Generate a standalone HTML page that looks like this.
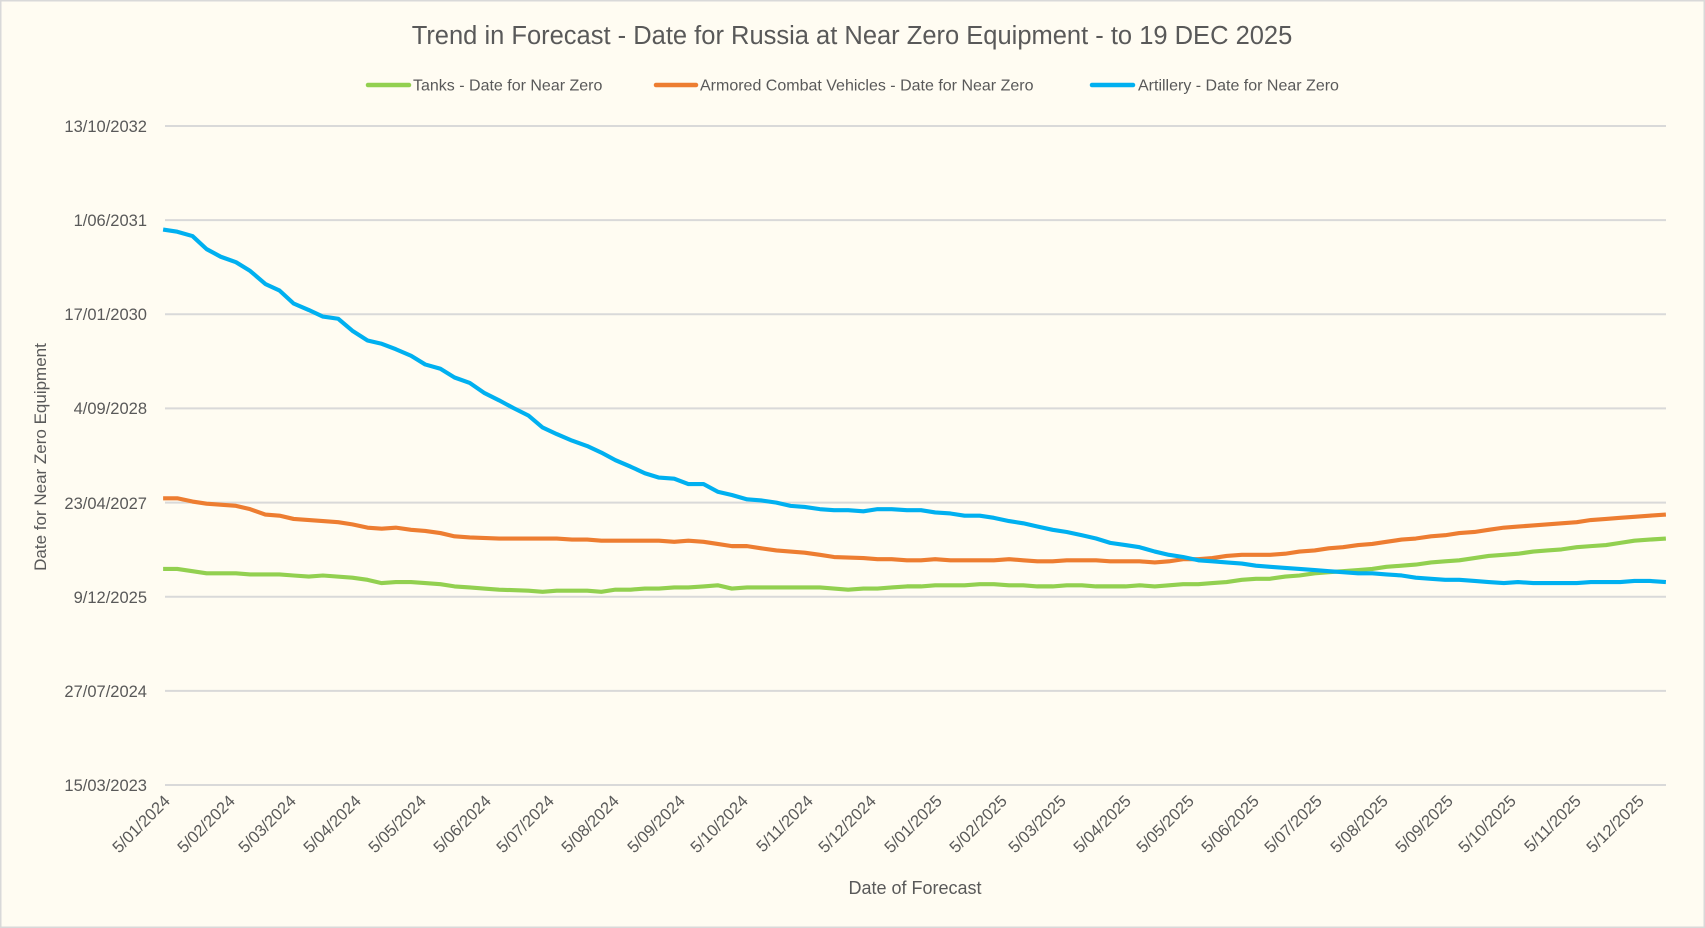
<!DOCTYPE html>
<html><head><meta charset="utf-8"><style>
html,body{margin:0;padding:0;background:#fffcf2;}
svg{display:block;font-family:"Liberation Sans",sans-serif;}
</style></head><body>
<svg width="1705" height="928" viewBox="0 0 1705 928">
<rect x="0.5" y="0.5" width="1704" height="927" fill="#fffcf2" stroke="#d9d9d9" stroke-width="2"/>
<text x="852" y="44" text-anchor="middle" font-size="25.5" fill="#595959">Trend in Forecast - Date for Russia at Near Zero Equipment - to 19 DEC 2025</text>
<g font-size="16" fill="#595959">
<line x1="368" y1="85" x2="409" y2="85" stroke="#92d050" stroke-width="4.5" stroke-linecap="round"/>
<text x="413" y="90.5">Tanks - Date for Near Zero</text>
<line x1="656" y1="85" x2="696" y2="85" stroke="#ed7d31" stroke-width="4.5" stroke-linecap="round"/>
<text x="700" y="90.5">Armored Combat Vehicles - Date for Near Zero</text>
<line x1="1092" y1="85" x2="1133" y2="85" stroke="#00b0f0" stroke-width="4.5" stroke-linecap="round"/>
<text x="1138" y="90.5">Artillery - Date for Near Zero</text>
</g>
<g stroke="#d9d9d9" stroke-width="2">
<line x1="165" x2="1666" y1="126" y2="126"/>
<line x1="165" x2="1666" y1="220.1" y2="220.1"/>
<line x1="165" x2="1666" y1="314.3" y2="314.3"/>
<line x1="165" x2="1666" y1="408.4" y2="408.4"/>
<line x1="165" x2="1666" y1="502.6" y2="502.6"/>
<line x1="165" x2="1666" y1="596.7" y2="596.7"/>
<line x1="165" x2="1666" y1="690.9" y2="690.9"/>
<line x1="165" x2="1666" y1="785" y2="785"/>
</g>
<g font-size="16.5" fill="#595959" text-anchor="end">
<text x="147" y="132">13/10/2032</text>
<text x="147" y="226">1/06/2031</text>
<text x="147" y="320">17/01/2030</text>
<text x="147" y="414">4/09/2028</text>
<text x="147" y="509">23/04/2027</text>
<text x="147" y="603">9/12/2025</text>
<text x="147" y="697">27/07/2024</text>
<text x="147" y="791">15/03/2023</text>
</g>
<text transform="translate(46,457) rotate(-90)" text-anchor="middle" font-size="17" fill="#595959">Date for Near Zero Equipment</text>
<text x="915" y="894" text-anchor="middle" font-size="18" fill="#595959">Date of Forecast</text>
<g font-size="16.5" fill="#595959" text-anchor="end">
<text transform="translate(171,802) rotate(-45)">5/01/2024</text>
<text transform="translate(236,802) rotate(-45)">5/02/2024</text>
<text transform="translate(297,802) rotate(-45)">5/03/2024</text>
<text transform="translate(362,802) rotate(-45)">5/04/2024</text>
<text transform="translate(427,802) rotate(-45)">5/05/2024</text>
<text transform="translate(492,802) rotate(-45)">5/06/2024</text>
<text transform="translate(555,802) rotate(-45)">5/07/2024</text>
<text transform="translate(620,802) rotate(-45)">5/08/2024</text>
<text transform="translate(686,802) rotate(-45)">5/09/2024</text>
<text transform="translate(749,802) rotate(-45)">5/10/2024</text>
<text transform="translate(814,802) rotate(-45)">5/11/2024</text>
<text transform="translate(877,802) rotate(-45)">5/12/2024</text>
<text transform="translate(943,802) rotate(-45)">5/01/2025</text>
<text transform="translate(1008,802) rotate(-45)">5/02/2025</text>
<text transform="translate(1067,802) rotate(-45)">5/03/2025</text>
<text transform="translate(1132,802) rotate(-45)">5/04/2025</text>
<text transform="translate(1195,802) rotate(-45)">5/05/2025</text>
<text transform="translate(1260,802) rotate(-45)">5/06/2025</text>
<text transform="translate(1323,802) rotate(-45)">5/07/2025</text>
<text transform="translate(1389,802) rotate(-45)">5/08/2025</text>
<text transform="translate(1454,802) rotate(-45)">5/09/2025</text>
<text transform="translate(1517,802) rotate(-45)">5/10/2025</text>
<text transform="translate(1582,802) rotate(-45)">5/11/2025</text>
<text transform="translate(1645,802) rotate(-45)">5/12/2025</text>
</g>
<g transform="scale(1.0874,1.0879)" fill="none" stroke-width="3.8" stroke-linejoin="round">
<polyline stroke="#92d050" points="150,523 163,523 177,525 190,527 217,527 230,528 257,528 270,529 284,530 297,529 324,531 338,533 351,536 364,535 378,535 391,536 405,537 418,539 432,540 445,541 459,542 486,543 499,544 512,543 540,543 553,544 566,542 580,542 593,541 606,541 620,540 633,540 647,539 660,538 673,541 687,540 700,540 754,540 767,541 780,542 794,541 807,541 820,540 834,539 847,539 860,538 887,538 901,537 914,537 928,538 941,538 954,539 968,539 981,538 995,538 1008,539 1035,539 1048,538 1062,539 1075,538 1088,537 1102,537 1115,536 1128,535 1142,533 1155,532 1168,532 1182,530 1195,529 1209,527 1222,526 1235,525 1249,524 1262,523 1275,521 1289,520 1302,519 1316,517 1329,516 1342,515 1356,513 1369,511 1383,510 1396,509 1410,507 1423,506 1436,505 1450,503 1463,502 1477,501 1490,499 1503,497 1517,496 1532,495"/>
<polyline stroke="#ed7d31" points="150,458 163,458 177,461 190,463 217,465 230,468 244,473 257,474 270,477 297,479 311,480 324,482 338,485 351,486 364,485 378,487 391,488 405,490 418,493 432,494 459,495 486,495 512,495 526,496 540,496 553,497 606,497 620,498 633,497 647,498 660,500 673,502 687,502 700,504 714,506 740,508 754,510 767,512 794,513 807,514 820,514 834,515 847,515 860,514 874,515 914,515 928,514 941,515 954,516 968,516 981,515 1008,515 1021,516 1048,516 1062,517 1075,516 1088,514 1102,514 1115,513 1128,511 1142,510 1168,510 1182,509 1195,507 1209,506 1222,504 1235,503 1249,501 1262,500 1275,498 1289,496 1302,495 1316,493 1329,492 1342,490 1356,489 1369,487 1383,485 1396,484 1410,483 1436,481 1450,480 1463,478 1477,477 1490,476 1503,475 1517,474 1532,473"/>
<polyline stroke="#00b0f0" points="150,211 163,213 177,217 190,229 203,236 217,241 230,249 244,261 257,267 270,279 284,285 297,291 311,293 324,304 338,313 351,316 364,321 378,327 391,335 405,339 418,347 432,352 445,361 459,368 472,375 486,382 499,393 512,399 526,405 540,410 553,416 566,423 580,429 593,435 606,439 620,440 633,445 647,445 660,452 673,455 687,459 700,460 714,462 727,465 740,466 754,468 767,469 780,469 794,470 807,468 820,468 834,469 847,469 860,471 874,472 887,474 901,474 914,476 928,479 941,481 954,484 968,487 981,489 995,492 1008,495 1021,499 1035,501 1048,503 1062,507 1075,510 1088,512 1102,515 1115,516 1128,517 1142,518 1155,520 1168,521 1182,522 1195,523 1209,524 1222,525 1235,526 1249,527 1262,527 1275,528 1289,529 1302,531 1316,532 1329,533 1342,533 1356,534 1369,535 1383,536 1396,535 1410,536 1423,536 1436,536 1450,536 1463,535 1477,535 1490,535 1503,534 1517,534 1532,535"/>
</g>
</svg>
</body></html>
